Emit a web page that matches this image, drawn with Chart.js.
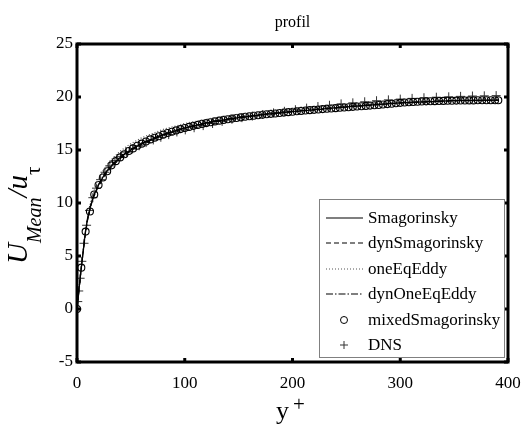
<!DOCTYPE html>
<html>
<head>
<meta charset="utf-8">
<script src="https://cdn.jsdelivr.net/npm/chart.js@4.4.1/dist/chart.umd.min.js"></script>
<style>
    html, body { margin: 0; padding: 0; background: #fff; }
    #wrap { width: 525px; height: 430px; }
</style>
</head>
<body>
<div id="wrap"><canvas id="chart-profil" width="525" height="430"></canvas></div>
<script>
// y+ grid of the LES line curves
const lesY = [0, 2, 4, 6, 8, 10, 13, 16, 20, 25, 30, 40, 50, 60, 80, 100, 125, 150, 175, 200, 250, 300, 350, 391];
const smagU = [0, 2, 3.9, 5.7, 7.4, 8.6, 9.9, 10.8, 11.7, 12.6, 13.3, 14.3, 15.0, 15.6, 16.45, 17.08, 17.65, 18.06, 18.36, 18.61, 19.07, 19.45, 19.66, 19.7];
const dynSmagU = [0, 2, 3.9, 5.6, 7.3, 8.5, 9.8, 10.7, 11.6, 12.5, 13.2, 14.2, 14.95, 15.55, 16.4, 17.05, 17.62, 18.03, 18.34, 18.6, 19.05, 19.43, 19.64, 19.68];
const oneEqU = [0, 2, 4.0, 5.8, 7.5, 8.8, 10.2, 11.2, 12.2, 13.2, 13.9, 14.9, 15.6, 16.15, 16.95, 17.5, 18.0, 18.38, 18.66, 18.9, 19.28, 19.58, 19.72, 19.75];
const dynOneEqU = [0, 2, 3.9, 5.7, 7.4, 8.6, 9.9, 10.85, 11.75, 12.65, 13.35, 14.35, 15.05, 15.65, 16.5, 17.12, 17.7, 18.1, 18.4, 18.65, 19.1, 19.47, 19.67, 19.71];

// mixedSmagorinsky cell centres (circles)
const mixY = [0, 4, 8, 12, 16, 20, 24, 28, 32, 36, 40, 44, 48, 52, 56, 60, 64, 68, 72, 76, 80, 84, 88, 92, 96,
    100, 104, 108, 112, 116, 120, 124, 128, 132, 136, 140, 144, 148, 152, 156, 160, 164, 168, 172, 176, 180, 184, 188, 192, 196,
    200, 204, 208, 212, 216, 220, 224, 228, 232, 236, 240, 244, 248, 252, 256, 260, 264, 268, 272, 276, 280, 284, 288, 292, 296,
    300, 304, 308, 312, 316, 320, 324, 328, 332, 336, 340, 344, 348, 352, 356, 360, 364, 368, 372, 376, 380, 384, 388, 391];
const mixU = [0, 3.9, 7.3, 9.2, 10.8, 11.7, 12.4, 13.0, 13.55, 13.95, 14.3, 14.6, 14.9, 15.15, 15.4, 15.6, 15.8, 16.0, 16.15, 16.3, 16.45, 16.6, 16.72, 16.85, 16.97,
    17.08, 17.18, 17.28, 17.37, 17.46, 17.54, 17.62, 17.7, 17.77, 17.84, 17.9, 17.96, 18.02, 18.08, 18.13, 18.18, 18.23, 18.28, 18.33, 18.37, 18.41, 18.45, 18.49, 18.53, 18.57,
    18.61, 18.65, 18.69, 18.72, 18.76, 18.79, 18.82, 18.86, 18.89, 18.92, 18.95, 18.98, 19.01, 19.04, 19.07, 19.1, 19.13, 19.16, 19.19, 19.22, 19.25, 19.29, 19.33, 19.37, 19.41,
    19.45, 19.48, 19.51, 19.53, 19.55, 19.57, 19.59, 19.6, 19.61, 19.62, 19.63, 19.64, 19.65, 19.66, 19.67, 19.67, 19.68, 19.68, 19.69, 19.69, 19.7, 19.7, 19.7, 19.7];

// DNS reference (plus markers)
const dnsY = [0, 0.7, 1.6, 2.9, 4.5, 6.5, 8.9, 11.6, 14.7, 18.1, 21.9, 26, 30.5, 35.2, 40.4, 45.8, 51.6, 57.7, 64.1, 70.8,
    77.8, 85.1, 92.7, 100.5, 108.7, 117.1, 125.8, 134.7, 143.8, 153.1, 162.7, 172.4, 182.4, 192.5, 202.7, 213.1, 223.6, 234.3, 245.1, 256,
    267, 278, 289, 300, 311, 322, 333.5, 345, 356, 367, 378, 389];
const dnsU = [0, 0.7, 1.7, 2.9, 4.5, 6.2, 7.9, 9.3, 10.5, 11.4, 12.2, 12.9, 13.5, 14.0, 14.4, 14.8, 15.1, 15.4, 15.7, 15.95,
    16.2, 16.45, 16.7, 16.9, 17.1, 17.3, 17.5, 17.7, 17.9, 18.05, 18.2, 18.35, 18.5, 18.65, 18.8, 18.95, 19.1, 19.22, 19.35, 19.45,
    19.55, 19.65, 19.73, 19.8, 19.87, 19.93, 19.98, 20.02, 20.06, 20.09, 20.11, 20.13];

const xTicks = [0, 100, 200, 300, 400];
const yTicks = [-5, 0, 5, 10, 15, 20, 25];
const legendLabels = ['Smagorinsky', 'dynSmagorinsky', 'oneEqEddy', 'dynOneEqEddy', 'mixedSmagorinsky', 'DNS'];

const SERIF = '"Liberation Serif", "Times New Roman", serif';
const pts = (xs, ys) => xs.map((x, i) => ({ x: x, y: ys[i] }));

const lineSet = (label, ys, dash, color) => ({
    label: label,
    data: pts(lesY, ys),
    showLine: true,
    borderColor: color,
    borderWidth: 1.2,
    borderDash: dash,
    pointRadius: 0,
    fill: false
});

const datasets = [
    lineSet(legendLabels[0], smagU, [], '#000'),
    lineSet(legendLabels[1], dynSmagU, [5, 3], '#000'),
    lineSet(legendLabels[2], oneEqU, [1, 2], '#555'),
    lineSet(legendLabels[3], dynOneEqU, [7, 2, 1.5, 2], '#000'),
    {
        label: legendLabels[4],
        data: pts(mixY, mixU),
        showLine: false,
        pointStyle: 'circle',
        pointRadius: 3.5,
        pointBorderWidth: 1.1,
        pointBorderColor: '#000',
        pointBackgroundColor: 'rgba(255,255,255,0)'
    },
    {
        label: legendLabels[5],
        data: pts(dnsY, dnsU),
        showLine: false,
        pointStyle: 'cross',
        pointRadius: 4.5,
        pointBorderWidth: 1,
        pointBorderColor: '#333'
    }
];

// frame, inward ticks, titles and the boxed legend
const decorPlugin = {
    id: 'decor',
    afterDatasetsDraw(chart) {
        const { ctx, chartArea: a, scales } = chart;
        ctx.save();
        ctx.strokeStyle = '#000';
        ctx.lineWidth = 3;
        ctx.strokeRect(a.left, a.top, a.right - a.left, a.bottom - a.top);
        const tl = 4;
        xTicks.forEach(v => {
            const px = scales.x.getPixelForValue(v);
            ctx.beginPath();
            ctx.moveTo(px, a.bottom); ctx.lineTo(px, a.bottom - tl);
            ctx.moveTo(px, a.top); ctx.lineTo(px, a.top + tl);
            ctx.stroke();
        });
        yTicks.forEach(v => {
            const py = scales.y.getPixelForValue(v);
            ctx.beginPath();
            ctx.moveTo(a.left, py); ctx.lineTo(a.left + tl, py);
            ctx.moveTo(a.right, py); ctx.lineTo(a.right - tl, py);
            ctx.stroke();
        });
        ctx.restore();
    },
    afterDraw(chart) {
        const { ctx, chartArea: a } = chart;
        ctx.save();
        ctx.fillStyle = '#000';

        // title
        ctx.font = `16px ${SERIF}`;
        ctx.textAlign = 'center';
        ctx.textBaseline = 'alphabetic';
        ctx.fillText('profil', (a.left + a.right) / 2, 27);

        // x title: y+
        ctx.textAlign = 'left';
        ctx.font = `26px ${SERIF}`;
        ctx.fillText('y', 276, 419);
        ctx.font = `21px ${SERIF}`;
        ctx.fillText('+', 293, 411);

        // y title: U_Mean / u_tau, rotated
        ctx.translate(27, 264);
        ctx.rotate(-Math.PI / 2);
        let cx = 0;
        const part = (txt, size, dy, italic) => {
            ctx.font = `${italic ? 'italic ' : ''}${size}px ${SERIF}`;
            ctx.fillText(txt, cx, dy);
            cx += ctx.measureText(txt).width;
        };
        part('U', 29, 0, true);
        part('Mean', 20, 14, true);
        part('/u', 29, 0, true);
        part('τ', 21, 13, false);
        ctx.restore();

        // legend
        const box = { l: 319, t: 199, r: 504, b: 357 };
        ctx.save();
        ctx.fillStyle = '#fff';
        ctx.fillRect(box.l, box.t, box.r - box.l, box.b - box.t);
        ctx.strokeStyle = '#808080';
        ctx.lineWidth = 1;
        ctx.strokeRect(box.l + 0.5, box.t + 0.5, box.r - box.l, box.b - box.t);
        const rowY = [218, 243, 269, 294, 320, 345];
        ctx.font = `17px ${SERIF}`;
        ctx.textBaseline = 'middle';
        ctx.textAlign = 'left';
        chart.data.datasets.forEach((ds, i) => {
            const y = rowY[i];
            ctx.strokeStyle = ds.borderColor || ds.pointBorderColor;
            if (ds.showLine) {
                ctx.lineWidth = ds.borderWidth;
                ctx.setLineDash(ds.borderDash);
                ctx.beginPath();
                ctx.moveTo(326, y); ctx.lineTo(363, y);
                ctx.stroke();
                ctx.setLineDash([]);
            } else if (ds.pointStyle === 'circle') {
                ctx.lineWidth = 1;
                ctx.beginPath();
                ctx.arc(344, y, 3.5, 0, Math.PI * 2);
                ctx.stroke();
            } else {
                ctx.lineWidth = 1;
                ctx.beginPath();
                ctx.moveTo(340, y); ctx.lineTo(348, y);
                ctx.moveTo(344, y - 4); ctx.lineTo(344, y + 4);
                ctx.stroke();
            }
            ctx.fillStyle = '#000';
            ctx.fillText(ds.label, 368, y + 1);
        });
        ctx.restore();
    }
};

const ctx = document.getElementById('chart-profil').getContext('2d');

new Chart(ctx, {
    type: 'scatter',
    data: { datasets: datasets },
    options: {
        responsive: false,
        animation: false,
        layout: { padding: { top: 44, right: 17, left: 0, bottom: 0 } },
        plugins: {
            legend: { display: false },
            tooltip: { enabled: false }
        },
        scales: {
            x: {
                type: 'linear',
                min: 0,
                max: 400,
                afterBuildTicks: s => { s.ticks = xTicks.map(v => ({ value: v })); },
                afterFit: s => { s.height = 68; s.paddingLeft = 0; s.paddingRight = 0; },
                grid: { display: false, drawTicks: false },
                border: { display: false },
                ticks: { color: '#000', padding: 11, font: { family: SERIF, size: 17 } }
            },
            y: {
                type: 'linear',
                min: -5,
                max: 25,
                afterBuildTicks: s => { s.ticks = yTicks.map(v => ({ value: v })); },
                afterFit: s => { s.width = 77; s.paddingTop = 0; s.paddingBottom = 0; },
                grid: { display: false, drawTicks: false },
                border: { display: false },
                ticks: { color: '#000', padding: 4, font: { family: SERIF, size: 17 } }
            }
        }
    },
    plugins: [decorPlugin]
});
</script>
</body>
</html>
